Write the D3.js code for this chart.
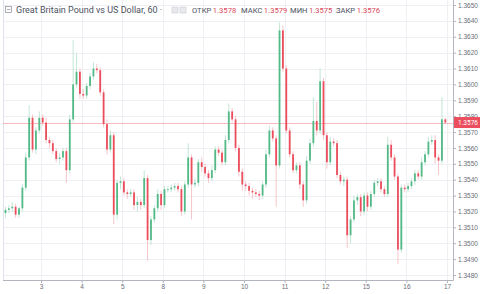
<!DOCTYPE html>
<html>
<head>
<meta charset="utf-8">
<script src="https://cdn.jsdelivr.net/npm/d3@7/dist/d3.min.js"></script>
<style>
body{margin:0;background:#fff;}
svg{display:block;font-family:Roboto,"Noto Sans",sans-serif;}
.axis text{fill:#6a6d78;}
.axis path,.axis line{stroke:#b2b5be;}
</style>
</head>
<body>
<script>
// GBP/USD candles (2h), open = previous close
var dayLabels=["3","4","5","8","9","10","11","12","15","16","17"];
var yTicks=[1.3480,1.3490,1.3500,1.3510,1.3520,1.3530,1.3540,1.3550,1.3560,1.3570,1.3580,1.3590,1.3600,1.3610,1.3620,1.3630,1.3640,1.3650];
var firstOpen=1.3519;
var closes=[1.3521,1.3522,1.3523,1.3518,1.3522,1.3535,1.3554,1.3579,1.3559,1.3571,
1.3579,1.3576,1.3565,1.3563,1.3558,1.3553,1.3554,1.3558,1.3546,1.3578,
1.3600,1.3608,1.3594,1.3593,1.3599,1.3605,1.3610,1.3609,1.3595,1.3575,
1.3559,1.3568,1.3518,1.3538,1.3539,1.3532,1.3531,1.3532,1.3524,1.3526,
1.3524,1.3541,1.3502,1.3515,1.3522,1.3531,1.3524,1.3534,1.3534,1.3535,
1.3536,1.3534,1.3520,1.3537,1.3554,1.3537,1.3538,1.3551,1.3548,1.3544,
1.3541,1.3546,1.3559,1.3557,1.3551,1.3565,1.3583,1.3578,1.3560,1.3545,
1.3537,1.3536,1.3533,1.3532,1.3531,1.3530,1.3537,1.3556,1.3571,1.3566,
1.3549,1.3634,1.3610,1.3571,1.3556,1.3546,1.3549,1.3537,1.3527,1.3552,
1.3563,1.3577,1.3571,1.3602,1.3568,1.3551,1.3564,1.3563,1.3543,1.3539,
1.3540,1.3505,1.3515,1.3527,1.3529,1.3520,1.3530,1.3523,1.3531,1.3538,
1.3539,1.3534,1.3531,1.3562,1.3554,1.3542,1.3496,1.3535,1.3534,1.3536,
1.3539,1.3544,1.3542,1.3551,1.3556,1.3564,1.3565,1.3554,1.3552,1.3578,
1.3576];
// wick lengths beyond the body, in pips
var wickUp=[2,2,3,2,1,2,3,8,2,2, 4,2,3,2,2,2,3,2,2,3, 28,12,2,3,2,2,4,3,2,2,
3,3,2,2,3,2,2,2,2,3, 2,5,2,2,2,3,2,2,2,2, 2,2,2,2,9,2,3,2,3,2,
2,3,2,2,2,3,5,2,2,2, 2,2,2,2,2,2,2,3,3,2, 2,5,3,2,2,2,2,2,2,3,
3,15,12,8,2,2,3,2,2,2, 2,2,2,3,2,2,2,2,2,2, 2,2,2,5,3,2,2,2,2,2,
2,2,2,3,2,3,3,3,2,14, 1];
var wickDn=[3,2,2,2,2,2,2,2,2,3, 2,2,2,3,2,2,3,2,8,2, 2,2,3,2,2,2,2,2,2,2,
3,2,6,3,4,2,3,2,3,4, 3,2,13,3,2,2,3,2,2,2, 2,2,3,2,2,22,2,2,3,2,
3,2,2,2,2,2,2,2,2,3, 4,3,3,4,2,3,2,2,2,2, 26,2,2,2,2,2,2,3,4,2,
2,2,3,2,3,4,2,2,2,2, 3,8,5,2,3,3,2,3,2,2, 2,2,2,2,2,2,9,2,2,2,
2,2,2,2,2,2,2,4,9,2, 1];
var lastPrice=1.3576;
var titleText="Great Britain Pound vs US Dollar, 60";
var ohlcNames=["ОТКР","МАКС","МИН","ЗАКР"];
var ohlcValues=["1.3578","1.3579","1.3575","1.3576"];

var W=480,H=294;
var plot={left:3,top:0,right:453,bottom:280};
var up="#53b987",down="#eb4d5c";

var candles=closes.map(function(c,i){
	var o=i==0?firstOpen:closes[i-1];
	return {t:-0.875+i/12,o:o,c:c,
		h:Math.max(o,c)+wickUp[i]*0.0001,
		l:Math.min(o,c)-wickDn[i]*0.0001};
});

var svg=d3.select("body").append("svg")
	.attr("width",W)
	.attr("height",H);

var x=d3.scaleLinear().domain([0,10]).range([41,447]);
var y=d3.scaleLinear().domain([1.3480,1.3650]).range([275,5]);

// grid
var grid=svg.append("g");
grid.selectAll(".hg").data(yTicks).enter().append("line")
	.attr("x1",plot.left).attr("x2",plot.right)
	.attr("y1",function(d){return Math.round(y(d))+0.5;})
	.attr("y2",function(d){return Math.round(y(d))+0.5;})
	.attr("stroke","#eef0f4");
grid.selectAll(".vg").data(d3.range(dayLabels.length)).enter().append("line")
	.attr("y1",plot.top).attr("y2",plot.bottom)
	.attr("x1",function(d){return Math.round(x(d))+0.5;})
	.attr("x2",function(d){return Math.round(x(d))+0.5;})
	.attr("stroke","#eef0f4");

svg.append("line")
	.attr("x1",plot.left+0.5).attr("x2",plot.left+0.5)
	.attr("y1",0).attr("y2",plot.bottom)
	.attr("stroke","#e0e3eb");

// last price line
svg.append("line")
	.attr("x1",plot.left).attr("x2",plot.right)
	.attr("y1",Math.round(y(lastPrice))+0.5).attr("y2",Math.round(y(lastPrice))+0.5)
	.attr("stroke","#eb4d5c").attr("stroke-opacity",0.4);

// candles
var cg=svg.append("g");
cg.selectAll(".wick").data(candles).enter().append("line")
	.attr("x1",function(d){return x(d.t);})
	.attr("x2",function(d){return x(d.t);})
	.attr("y1",function(d){return y(d.h);})
	.attr("y2",function(d){return y(d.l);})
	.attr("stroke",function(d){return d.c>=d.o?"#b4e0ca":"#f4b6bd";})
	.attr("stroke-width",0.8);
cg.selectAll(".body").data(candles).enter().append("rect")
	.attr("x",function(d){return x(d.t)-0.9;})
	.attr("width",1.8)
	.attr("y",function(d){return y(Math.max(d.o,d.c));})
	.attr("height",function(d){return Math.max(0.8,Math.abs(y(d.o)-y(d.c)));})
	.attr("fill",function(d){return d.c>=d.o?up:down;});

// axes
svg.append("g").attr("class","axis")
	.attr("transform","translate("+plot.right+",0)")
	.call(d3.axisRight(y).tickValues(yTicks).tickFormat(d3.format(".4f")).tickSize(3).tickPadding(2))
	.call(function(g){g.select(".domain").attr("d","M0.5,0V"+(plot.bottom+0.5));})
	.selectAll("text").attr("font-size",6.5);

svg.append("g").attr("class","axis")
	.attr("transform","translate(0,"+plot.bottom+")")
	.call(d3.axisBottom(x).tickValues(d3.range(dayLabels.length)).tickFormat(function(d){return dayLabels[d];}).tickSize(3).tickPadding(1))
	.call(function(g){g.select(".domain").attr("d","M"+plot.left+",0.5H"+(plot.right+0.5));})
	.selectAll("text").attr("font-size",6.5).attr("fill","#333");

// last price label
svg.append("rect")
	.attr("x",plot.right+1).attr("y",y(lastPrice)-5.5)
	.attr("width",W-plot.right-1).attr("height",11)
	.attr("fill","#eb4d5c");
svg.append("text")
	.attr("x",plot.right+5).attr("y",y(lastPrice)+2.3)
	.attr("font-size",6.5).attr("fill","#fff")
	.text(d3.format(".4f")(lastPrice));

// legend
var lg=svg.append("g");
lg.append("rect").attr("x",5.5).attr("y",6.5).attr("width",6).attr("height",6)
	.attr("fill","none").attr("stroke","#8a8e99").attr("stroke-width",0.7);
lg.append("line").attr("x1",7).attr("x2",10.5).attr("y1",9.5).attr("y2",9.5)
	.attr("stroke","#8a8e99").attr("stroke-width",0.7);
lg.append("text").attr("x",16).attr("y",13.2)
	.attr("font-size",9).attr("fill","#4c525e")
	.text(titleText+" ·");
[172,180].forEach(function(px){
	lg.append("rect").attr("x",px).attr("y",7).attr("width",6).attr("height",6)
		.attr("fill","#e9eaee").attr("stroke","#c8cad0").attr("stroke-width",0.6);
});
var lx=[192,241,290,336];
ohlcNames.forEach(function(n,i){
	var t=lg.append("text").attr("x",lx[i]).attr("y",12.8).attr("font-size",7.6);
	t.append("tspan").attr("fill","#4c525e").text(n);
	t.append("tspan").attr("fill","#d8495b").attr("dx",1.5).text(ohlcValues[i]);
});
</script>
</body>
</html>
